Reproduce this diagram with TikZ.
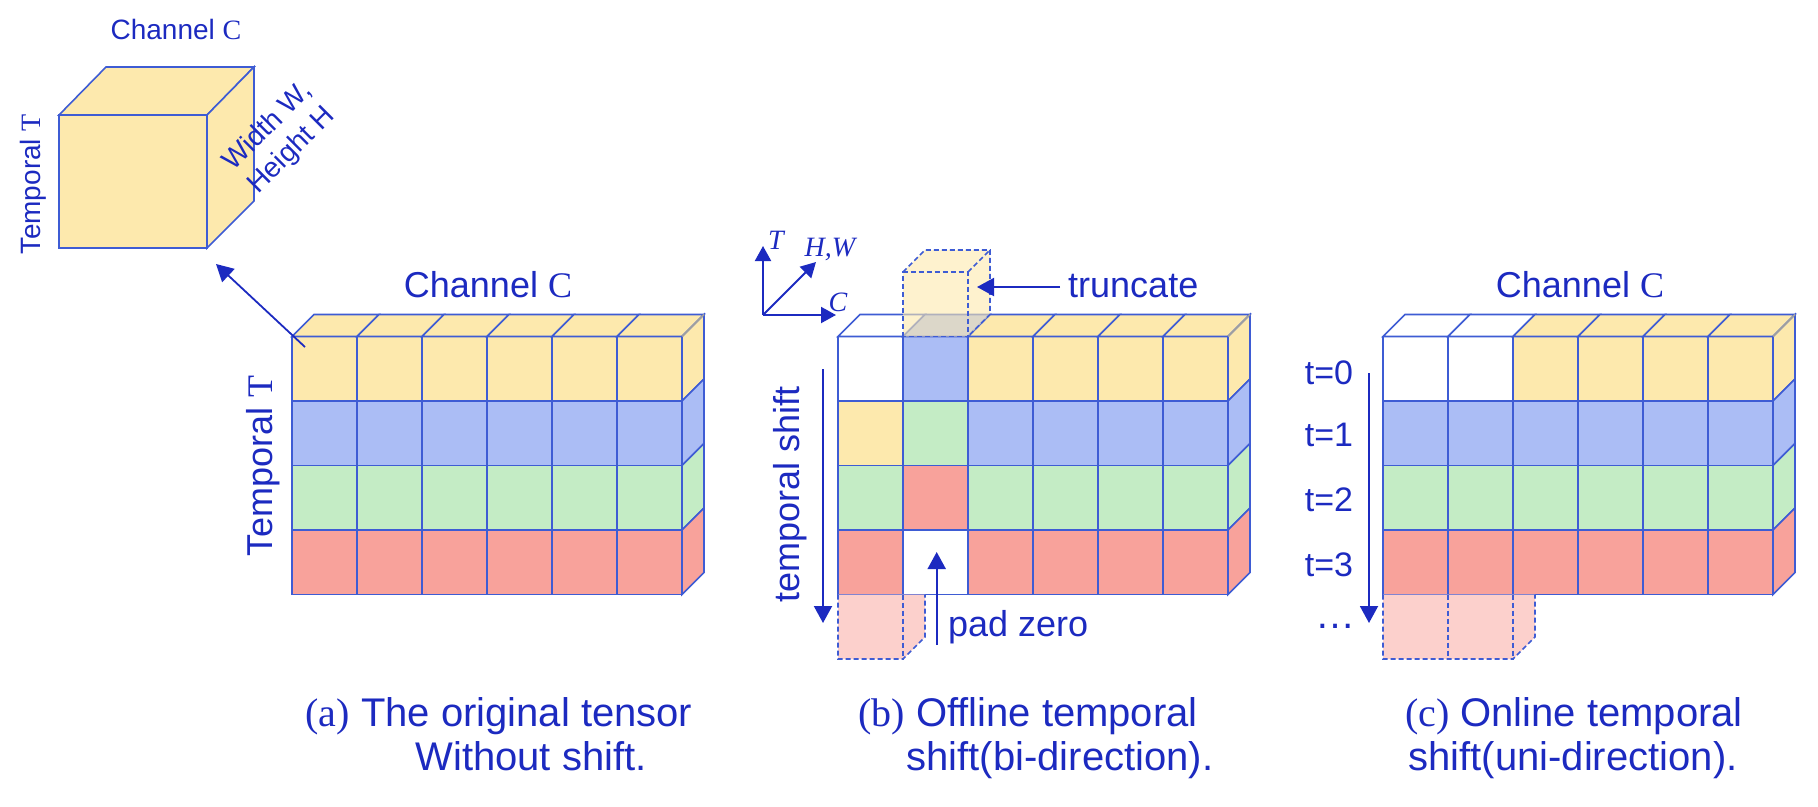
\documentclass[tikz,border=0pt]{standalone}
\usepackage{fontspec}
\setmainfont{Liberation Sans}
\newfontfamily\tsmserif{Liberation Serif}
\usetikzlibrary{arrows.meta}
\definecolor{txt}{RGB}{28,42,192}
\definecolor{edge}{RGB}{62,92,212}
\definecolor{cy}{RGB}{253,233,173}
\definecolor{cb}{RGB}{171,189,245}
\definecolor{cg}{RGB}{196,236,197}
\definecolor{cr}{RGB}{248,162,155}
\definecolor{cp}{RGB}{252,208,204}
\newcommand{\fS}{\fontsize{28}{34}\selectfont}
\newcommand{\fL}{\fontsize{36}{43}\selectfont}
\newcommand{\fC}{\fontsize{40}{44}\selectfont}
% front row of cells: x0, row index, colour list
\newcommand{\tsmrow}[3]{%
  \foreach \cl [count=\i from 0] in {#3} {
    \filldraw[cellst,fill=\cl] ({#1+\i*65},{336.5+#2*64.5}) rectangle ++(65,64.5);
  }}
% top faces
\newcommand{\tsmtop}[2]{%
  \foreach \cl [count=\i from 0] in {#2} {
    \filldraw[cellst,fill=\cl] ({#1+\i*65},336.5) -- ++(22,-22) -- ++(65,0) -- ++(-22,22) -- cycle;
  }}
% right faces
\newcommand{\tsmside}[2]{%
  \foreach \cl [count=\j from 0] in {#2} {
    \filldraw[cellst,fill=\cl] ({#1+390},{336.5+\j*64.5}) -- ++(22,-22) -- ++(0,64.5) -- ++(-22,22) -- cycle;
  }
  \draw[gray!75,line width=1.5pt] ({#1+390},336.5) -- ++(22,-22);}
\begin{document}
\begin{tikzpicture}[x=1pt,y=-1pt,
  cellst/.style={draw=edge,line width=1.6pt},
  dsh/.style={draw=edge,line width=1.6pt,dash pattern=on 5pt off 3pt},
  arr/.style={draw=txt,line width=2pt,-{Triangle[width=18pt,length=17pt]}},
  axarr/.style={draw=txt,line width=2pt,-{Triangle[width=16pt,length=15pt]}},
  lblS/.style={text=txt,inner sep=0pt,font=\fS},
  lbl/.style={text=txt,inner sep=0pt,font=\fL},
  captxt/.style={text=txt,inner sep=0pt,font=\fC,anchor=base},
]
\useasboundingbox (0,0) rectangle (1818,806);

% ---------- small cube ----------
\filldraw[cellst,fill=cy] (59,115) rectangle (207,248);
\filldraw[cellst,fill=cy] (59,115) -- (106,67) -- (254,67) -- (207,115) -- cycle;
\filldraw[cellst,fill=cy] (207,115) -- (254,67) -- (254,201) -- (207,248) -- cycle;
\node[lblS,anchor=base] (cubeC) at (176,39) {Channel {\tsmserif C}};
\node[lblS,anchor=base,rotate=90] (cubeT) at (40,184) {Temporal {\tsmserif T}};
\node[lblS,rotate=45,align=center] (cubeWH) at (280,139) {Width W,\\Height H};

% ---------- panel (a) ----------
\tsmrow{292}{0}{cy,cy,cy,cy,cy,cy}
\tsmrow{292}{1}{cb,cb,cb,cb,cb,cb}
\tsmrow{292}{2}{cg,cg,cg,cg,cg,cg}
\tsmrow{292}{3}{cr,cr,cr,cr,cr,cr}
\tsmtop{292}{cy,cy,cy,cy,cy,cy}
\tsmside{292}{cy,cb,cg,cr}
\node[lbl,anchor=base] (aC) at (488,297) {Channel {\tsmserif C}};
\node[lbl,anchor=base,rotate=90] (aT) at (272,466) {Temporal {\tsmserif T}};
\coordinate (aTail) at (305,347);
\coordinate (aHead) at (216,264);
\draw[arr,line width=1.8pt] (aTail) -- (aHead);
\node[captxt] (capa1) at (499,726) {{\tsmserif (a)} The original tensor};
\node[captxt] (capa2) at (531,770) {Without shift.};

% ---------- panel (b) ----------
\tsmrow{838}{0}{white,cb,cy,cy,cy,cy}
\tsmrow{838}{1}{cy,cg,cb,cb,cb,cb}
\tsmrow{838}{2}{cg,cr,cg,cg,cg,cg}
\tsmrow{838}{3}{cr,white,cr,cr,cr,cr}
\tsmtop{838}{white,cb,cy,cy,cy,cy}
\tsmside{838}{cy,cb,cg,cr}
% truncated cube
\fill[cy,fill opacity=0.6] (903,336.5) -- (903,272) -- (925,250) -- (990,250) -- (990,314.5) -- (968,336.5) -- cycle;
\draw[dsh] (903,336.5) -- (903,272) -- (968,272) -- (968,336.5) -- cycle;
\draw[dsh] (903,272) -- (925,250) -- (990,250) -- (990,314.5) -- (968,336.5);
\draw[dsh] (968,272) -- (990,250);
% padded cube
\fill[cp] (838,594.5) -- (838,659) -- (903,659) -- (925,637) -- (925,594.5) -- cycle;
\draw[dsh] (838,594.5) -- (838,659) -- (903,659) -- (925,637) -- (925,594.5);
\draw[dsh] (903,594.5) -- (903,659);
% axes
\coordinate (ax0) at (763,315);
\coordinate (axT) at (763,246);
\coordinate (axC) at (836,315);
\coordinate (axHW) at (816,262);
\draw[axarr] (ax0) -- (axT);
\draw[axarr] (ax0) -- (axC);
\draw[axarr] (ax0) -- (axHW);
\node[lblS,anchor=base] (lT) at (776,249) {\tsmserif\itshape T};
\node[lblS,anchor=base] (lHW) at (830,256) {\tsmserif\itshape H,W};
\node[lblS,anchor=base] (lC) at (838,311) {\tsmserif\itshape C};
% truncate
\node[lbl,anchor=base west] (trunc) at (1068,297) {truncate};
\coordinate (truncTail) at (1060,287);
\coordinate (truncTip) at (977,287);
\draw[arr] (truncTail) -- (truncTip);
% pad zero
\node[lbl,anchor=base west] (padz) at (948,636) {pad zero};
\coordinate (padTail) at (936.7,645);
\coordinate (padTip) at (936.7,552);
\draw[arr] (padTail) -- (padTip);
% temporal shift
\node[lbl,anchor=base,rotate=90] (tshift) at (799,494) {temporal shift};
\coordinate (tsTop) at (823,369);
\coordinate (tsBot) at (823,623);
\draw[arr] (tsTop) -- (tsBot);
\node[captxt] (capb1) at (1028,726) {{\tsmserif (b)} Offline temporal};
\node[captxt] (capb2) at (1060,770) {shift(bi-direction).};

% ---------- panel (c) ----------
\tsmrow{1383}{0}{white,white,cy,cy,cy,cy}
\tsmrow{1383}{1}{cb,cb,cb,cb,cb,cb}
\tsmrow{1383}{2}{cg,cg,cg,cg,cg,cg}
\tsmrow{1383}{3}{cr,cr,cr,cr,cr,cr}
\tsmtop{1383}{white,white,cy,cy,cy,cy}
\tsmside{1383}{cy,cb,cg,cr}
\fill[cp] (1383,594.5) -- (1383,659) -- (1513,659) -- (1535,637) -- (1535,594.5) -- cycle;
\draw[dsh] (1383,594.5) -- (1383,659) -- (1513,659) -- (1535,637) -- (1535,594.5);
\draw[dsh] (1448,594.5) -- (1448,659);
\draw[dsh] (1513,594.5) -- (1513,659);
\node[lbl,anchor=base] (cC) at (1580,297) {Channel {\tsmserif C}};
\node[lbl,font=\fontsize{34}{40}\selectfont] (t0) at (1329,373) {t=0};
\node[lbl,font=\fontsize{34}{40}\selectfont] (t1) at (1329,435) {t=1};
\node[lbl,font=\fontsize{34}{40}\selectfont] (t2) at (1329,500) {t=2};
\node[lbl,font=\fontsize{34}{40}\selectfont] (t3) at (1329,565) {t=3};
\node[lbl,anchor=base,font=\fontsize{40}{44}\selectfont] (dots) at (1335,628) {…};
\coordinate (cTop) at (1369,373);
\coordinate (cBot) at (1369,623);
\draw[arr] (cTop) -- (cBot);
\node[captxt] (capc1) at (1574,726) {{\tsmserif (c)} Online temporal};
\node[captxt] (capc2) at (1573,770) {shift(uni-direction).};
\end{tikzpicture}
\end{document}
